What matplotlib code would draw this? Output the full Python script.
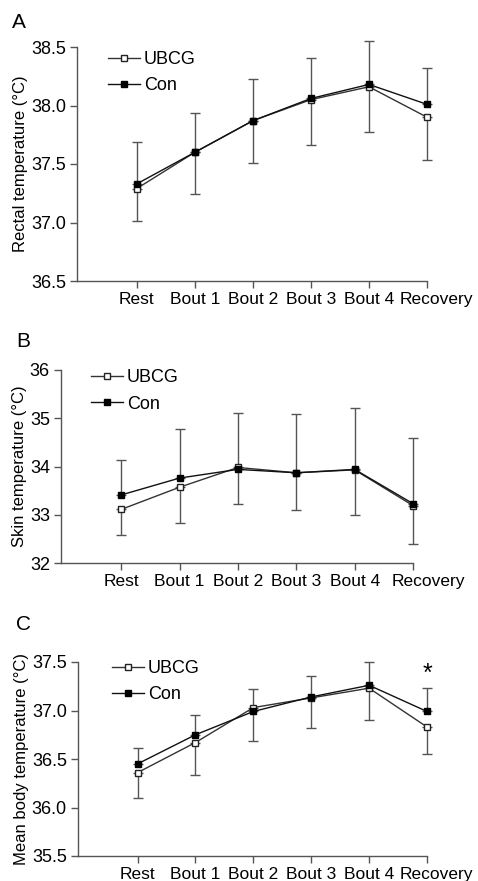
import matplotlib.pyplot as plt
from matplotlib.transforms import ScaledTranslation

plt.rcParams['font.family'] = ['Liberation Sans', 'DejaVu Sans']

stages = ["Rest", "Bout 1", "Bout 2", "Bout 3", "Bout 4", "Recovery"]

# A: rectal temperature
rectal_ubcg = [37.29, 37.60, 37.87, 38.05, 38.16, 37.90]
rectal_con = [37.33, 37.60, 37.87, 38.06, 38.18, 38.01]
rectal_ubcg_low = [37.01, 37.24, 37.51, 37.66, 37.77, 37.53]
rectal_con_high = [37.69, 37.94, 38.23, 38.41, 38.55, 38.32]

# B: skin temperature
skin_ubcg = [33.11, 33.57, 33.98, 33.87, 33.93, 33.19]
skin_con = [33.41, 33.76, 33.94, 33.87, 33.94, 33.23]
skin_ubcg_low = [32.57, 32.82, 33.23, 33.09, 32.99, 32.39]
skin_con_high = [34.13, 34.78, 35.10, 35.09, 35.21, 34.59]

# C: mean body temperature
body_ubcg = [36.36, 36.67, 37.03, 37.13, 37.23, 36.83]
body_con = [36.45, 36.75, 36.99, 37.14, 37.26, 36.99]
body_ubcg_low = [36.10, 36.33, 36.69, 36.82, 36.90, 36.55]
body_con_high = [36.61, 36.95, 37.22, 37.36, 37.50, 37.23]

W, H = 478, 881
fig = plt.figure(figsize=(W / 100, H / 100), dpi=100)


def px_axes(left, right, top, bottom):
    return fig.add_axes([left / W, 1 - bottom / H, (right - left) / W, (bottom - top) / H])


def panel(ax, ubcg, con, ubcg_low, con_high, ylim, yticks, fmt, ylabel, leg_x, leg_y, rec_shift):
    x = list(range(len(stages)))
    lo = [u - l for u, l in zip(ubcg, ubcg_low)]
    hi = [h - c for h, c in zip(con_high, con)]
    for vals, err in [(ubcg, [lo, [0] * len(x)]), (con, [[0] * len(x), hi])]:
        eb = ax.errorbar(x, vals, yerr=err, fmt="none", ecolor="#555555",
                         elinewidth=1, capsize=3.5, capthick=1, zorder=1)
        for art in eb.lines[1] + eb.lines[2]:
            art.set_clip_on(False)
    ax.plot(x, ubcg, "-s", color="#333333", lw=1, ms=5, mfc="white", mec="#222222",
            mew=1, label="UBCG", zorder=3, clip_on=False)
    ax.plot(x, con, "-s", color="#111111", lw=1, ms=5, mfc="black", mec="black",
            label="Con", zorder=4, clip_on=False)
    ax.set_xlim(-1.03, 5)
    ax.set_ylim(*ylim)
    ax.set_yticks(yticks)
    ax.set_yticklabels([fmt.format(v) for v in yticks], fontsize=13)
    ax.set_xticks(x)
    labels = ax.set_xticklabels(stages, fontsize=12.5)
    for s in ["top", "right"]:
        ax.spines[s].set_visible(False)
    for s in ["left", "bottom"]:
        ax.spines[s].set_color("#555555")
        ax.spines[s].set_linewidth(1)
    ax.tick_params(direction="out", length=5, color="#555555", width=1, pad=3)
    # the last label sits a bit right of its tick in the original
    labels[-1].set_transform(labels[-1].get_transform()
                             + ScaledTranslation(rec_shift / 100, 0, fig.dpi_scale_trans))
    ax.set_ylabel(ylabel, fontsize=12, labelpad=2)
    ax.legend(loc="upper left", bbox_to_anchor=(leg_x, leg_y), frameon=False,
              fontsize=13, handlelength=1.8, handletextpad=0.2, labelspacing=0.52,
              borderaxespad=0, borderpad=0)


ax_a = px_axes(77, 427, 47, 281)
panel(ax_a, rectal_ubcg, rectal_con, rectal_ubcg_low, rectal_con_high,
      (36.5, 38.5), [36.5, 37.0, 37.5, 38.0, 38.5], "{:.1f}", "Rectal temperature (°C)",
      0.088, 0.983, 9)

ax_b = px_axes(61, 413, 370, 563)
panel(ax_b, skin_ubcg, skin_con, skin_ubcg_low, skin_con_high,
      (32, 36), [32, 33, 34, 35, 36], "{:.0f}", "Skin temperature (°C)",
      0.085, 1.004, 15)

ax_c = px_axes(78, 427, 662, 856)
panel(ax_c, body_ubcg, body_con, body_ubcg_low, body_con_high,
      (35.5, 37.5), [35.5, 36.0, 36.5, 37.0, 37.5], "{:.1f}", "Mean body temperature (°C)",
      0.097, 1.01, 9)
ax_c.text(5, body_con_high[5] + 0.02, "*", ha="center", va="bottom", fontsize=18)

fig.text(12 / W, 1 - 22 / H, "A", fontsize=15, va="center", ha="left")
fig.text(16 / W, 1 - 342 / H, "B", fontsize=15, va="center", ha="left")
fig.text(16 / W, 1 - 625 / H, "C", fontsize=15, va="center", ha="left")

fig.savefig("out.png", dpi=100)
